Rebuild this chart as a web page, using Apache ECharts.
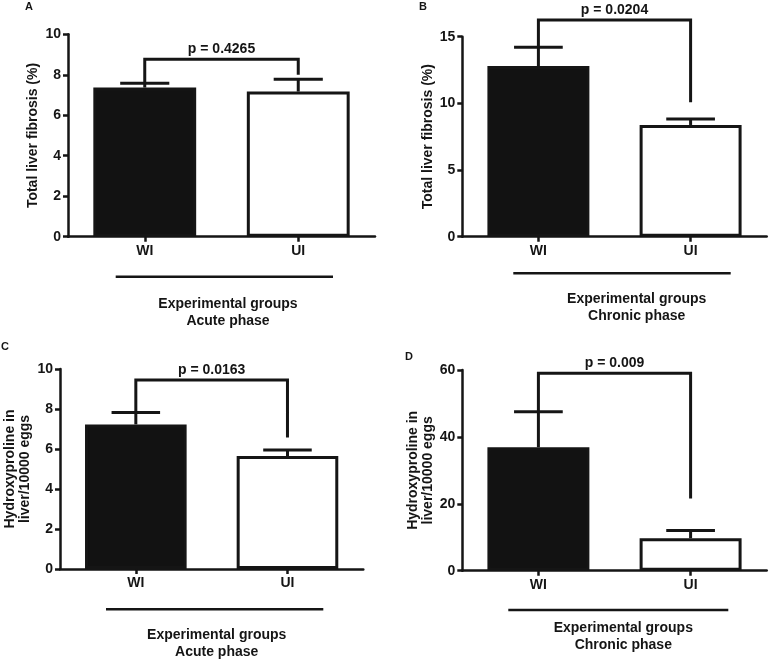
<!DOCTYPE html>
<html><head><meta charset="utf-8">
<script src="https://cdn.jsdelivr.net/npm/echarts@6/dist/echarts.min.js"></script>
<style>html,body{margin:0;padding:0;background:#fff}#c{width:771px;height:662px}</style>
</head><body><div id="c"></div>
<script>
// ---- data ----
const categories = ['WI', 'UI'];
// Panel A: Total liver fibrosis (%), acute phase
const meanA = [7.37, 7.17];
const errTopA = [7.58, 7.78];
const bracketA = [0, 1, 8.77, 7.58, 8.0];
const pA = 'p = 0.4265';
// Panel B: Total liver fibrosis (%), chronic phase
const meanB = [12.8, 8.38];
const errTopB = [14.2, 8.83];
const bracketB = [0, 1, 16.25, 14.2, 10.08];
const pB = 'p = 0.0204';
// Panel C: Hydroxyproline, acute phase
const meanC = [7.23, 5.65];
const errTopC = [7.82, 5.95];
const bracketC = [0, 1, 9.45, 7.82, 6.58];
const pC = 'p = 0.0163';
// Panel D: Hydroxyproline, chronic phase
const meanD = [36.9, 9.7];
const errTopD = [47.5, 12.0];
const bracketD = [0, 1, 59.0, 47.5, 21.6];
const pD = 'p = 0.009';

const yMax = [10, 15, 10, 60];
const yInterval = [2, 5, 2, 20];
const yNames = ['Total liver fibrosis (%)', 'Total liver fibrosis (%)', 'Hydroxyproline in\nliver/10000 eggs', 'Hydroxyproline in\nliver/10000 eggs'];
const panelLetters = ['A', 'B', 'C', 'D'];
const xTitles = ['Experimental groups\nAcute phase', 'Experimental groups\nChronic phase', 'Experimental groups\nAcute phase', 'Experimental groups\nChronic phase'];

// ---- chart ----
const FONT = '"Liberation Sans", Arial, Helvetica, sans-serif';
const INK = '#151515';
const chart = echarts.init(document.getElementById('c'), null, {renderer: 'canvas'});

const grids = [
  {left: 68, right: 396, top: 34.3, bottom: 425.3},
  {left: 462.3, right: 4.3, top: 36.7, bottom: 425.3},
  {left: 60, right: 407.7, top: 369, bottom: 93},
  {left: 462.3, right: 4.3, top: 370, bottom: 91.3}
];
const nameGaps = [27, 27, 27, 27];

const means = [meanA, meanB, meanC, meanD];
const tops = [errTopA, errTopB, errTopC, errTopD];
const brackets = [bracketA, bracketB, bracketC, bracketD];
const pTexts = [pA, pB, pC, pD];

const xAxes = [], yAxes = [], series = [];
for (let i = 0; i < 4; i++) {
  xAxes.push({
    type: 'category', gridIndex: i, data: categories,
    axisLine: {lineStyle: {color: INK, width: 2.5}},
    axisTick: {show: true, alignWithLabel: true, length: 5, lineStyle: {color: INK, width: 2.5}},
    axisLabel: {color: INK, fontFamily: FONT, fontWeight: 'bold', fontSize: 14, margin: 7}
  });
  yAxes.push({
    type: 'value', gridIndex: i, min: 0, max: yMax[i], interval: yInterval[i],
    name: yNames[i], nameLocation: 'middle', nameRotate: 90, nameGap: nameGaps[i],
    nameTextStyle: {color: INK, fontFamily: FONT, fontWeight: 'bold', fontSize: 14, lineHeight: 15},
    axisLine: {show: true, lineStyle: {color: INK, width: 2.5}},
    axisTick: {show: true, length: 5, lineStyle: {color: INK, width: 2.5}},
    axisLabel: {color: INK, fontFamily: FONT, fontWeight: 'bold', fontSize: 14, margin: 7},
    splitLine: {show: false}
  });
  series.push({
    type: 'bar', xAxisIndex: i, yAxisIndex: i, barWidth: '67%',
    data: means[i].map((v, k) => ({value: v, itemStyle: {color: k === 0 ? '#121212' : '#ffffff'}})),
    itemStyle: {borderColor: INK, borderWidth: 3},
    silent: true, z: 2
  });
  series.push({
    type: 'custom', xAxisIndex: i, yAxisIndex: i, z: 3, clip: false, silent: true,
    data: means[i].map((v, k) => [k, v, tops[i][k]]),
    renderItem: function (params, api) {
      const x = api.value(0);
      const p0 = api.coord([x, api.value(1)]);
      const p1 = api.coord([x, api.value(2)]);
      const hw = api.size([1, 0])[0] * 0.16;
      const st = {stroke: INK, lineWidth: 3, fill: null};
      return {type: 'group', children: [
        {type: 'line', shape: {x1: p0[0], y1: p0[1], x2: p1[0], y2: p1[1]}, style: st},
        {type: 'line', shape: {x1: p1[0] - hw, y1: p1[1], x2: p1[0] + hw, y2: p1[1]}, style: st}
      ]};
    }
  });
  const pt = pTexts[i];
  series.push({
    type: 'custom', xAxisIndex: i, yAxisIndex: i, z: 4, clip: false, silent: true,
    data: [brackets[i]],
    encode: {x: [0, 1], y: [3]},
    renderItem: function (params, api) {
      const l = api.value(0), r = api.value(1), t = api.value(2), le = api.value(3), re = api.value(4);
      const a = api.coord([l, le]), b = api.coord([l, t]), c = api.coord([r, t]), d = api.coord([r, re]);
      return {type: 'group', children: [
        {type: 'polyline', shape: {points: [a, b, c, d]}, style: {stroke: INK, lineWidth: 3, fill: null}},
        {type: 'text', x: (b[0] + c[0]) / 2, y: b[1] - 3,
          style: {text: pt, fill: INK, font: 'bold 14px ' + FONT, textAlign: 'center', textVerticalAlign: 'bottom'}}
      ]};
    }
  });
}

const graphics = [];
const letterPos = [[29, 7], [423, 7], [5, 347], [409, 357]];
const titlePos = [[228, 313], [636.7, 307.5], [216.7, 644], [623.3, 636.3]];
const underline = [[115.7, 333, 276.7], [513.3, 730.7, 273.3], [106, 323.3, 609.3], [508.3, 728.3, 610]];
for (let i = 0; i < 4; i++) {
  graphics.push({type: 'text', x: letterPos[i][0], y: letterPos[i][1],
    style: {text: panelLetters[i], fill: INK, font: 'bold 11px ' + FONT, textAlign: 'center', textVerticalAlign: 'middle'}});
  graphics.push({type: 'text', x: titlePos[i][0], y: titlePos[i][1],
    style: {text: xTitles[i], fill: INK, font: 'bold 14px ' + FONT, lineHeight: 17, textAlign: 'center', textVerticalAlign: 'middle'}});
  graphics.push({type: 'line', shape: {x1: underline[i][0], y1: underline[i][2], x2: underline[i][1], y2: underline[i][2]},
    style: {stroke: INK, lineWidth: 2.5}});
}

chart.setOption({
  backgroundColor: '#ffffff',
  animation: false,
  grid: grids,
  xAxis: xAxes,
  yAxis: yAxes,
  series: series,
  graphic: graphics
});
</script>
</body></html>
